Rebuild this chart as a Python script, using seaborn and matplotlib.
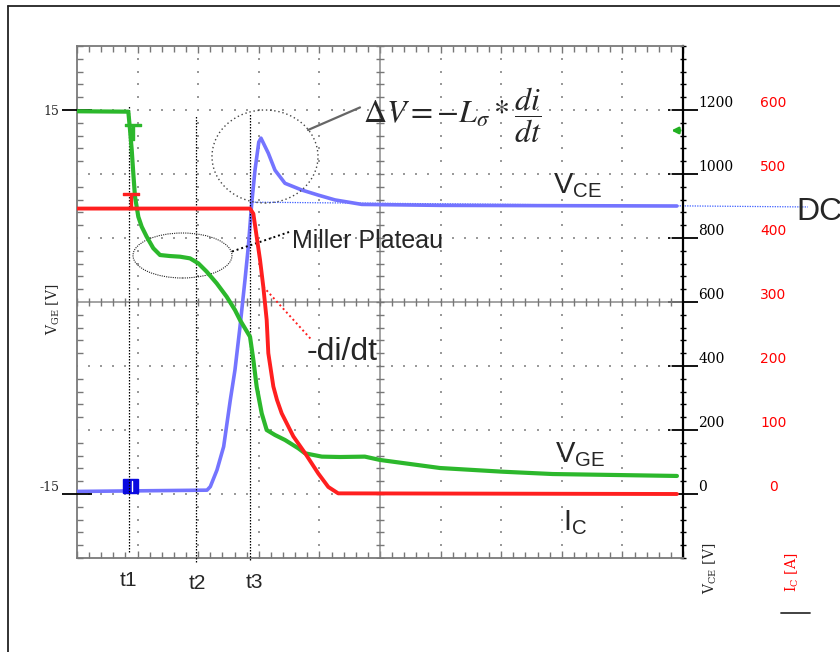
import numpy as np
import pandas as pd
import matplotlib
matplotlib.use("Agg")
import matplotlib.pyplot as plt
import seaborn as sns
from matplotlib.patches import Ellipse, Rectangle
from matplotlib.lines import Line2D
from matplotlib.ticker import FixedLocator, MultipleLocator

# ---------------- data (time in scope divisions) ----------------
vge_t = [0, 0.847, 0.875, 0.903, 0.929, 0.957, 1.012, 1.068, 1.150, 1.259, 1.370, 1.535,
         1.700, 1.865, 2.002, 2.140, 2.305, 2.470, 2.607, 2.69, 2.855, 2.91, 2.965, 3.048,
         3.13, 3.267, 3.432, 3.652, 3.762, 4.04, 4.34, 4.75, 5.00, 5.99, 7.03, 7.85, 9.90]
vge_v = [14.9, 14.87, 13.44, 11.88, 10.05, 8.23, 6.66, 5.88, 5.10, 4.20, 3.67, 3.59,
         3.54, 3.41, 3.02, 2.37, 1.46, 0.41, -0.63, -1.41, -2.71, -4.53, -6.62, -8.70,
         -10.0, -10.39, -10.78, -11.43, -11.82, -12.08, -12.11, -12.08, -12.34, -12.97,
         -13.26, -13.44, -13.59]

vce_t = [0, 2.145, 2.20, 2.31, 2.42, 2.53, 2.607, 2.69, 2.772, 2.827, 2.883, 2.937, 3.0,
         3.036, 3.157, 3.267, 3.432, 3.708, 3.982, 4.257, 4.70, 5.99, 9.90]
vce_v = [8, 12, 23, 75, 148, 294, 388, 523, 669, 773, 908, 1012, 1100,
         1112, 1065, 1012, 971, 950, 934, 919, 905, 902, 900]

ic_t = [0, 2.855, 2.91, 2.965, 3.02, 3.074, 3.13, 3.157, 3.24, 3.30, 3.378, 3.57, 3.762,
        3.982, 4.147, 4.31, 9.90]
ic_a = [446, 446, 438, 402, 366, 324, 272, 220, 168, 147, 126, 90, 64, 32, 11, 1, 0]

t_marks = [0.853, 1.969, 2.85]
t_top = [1215, 1184, 1190]
t_bot = [-180, -212, -206]
t_names = ["t1", "t2", "t3"]

dc_t = [2.85, 12.06]
dc_v = [912, 897]

vce_ticks = [0, 200, 400, 600, 800, 1000, 1200]
ic_ticks = [0, 100, 200, 300, 400, 500, 600]
vge_ticks = [-15, 15]

GREEN = "#2cb82c"
RED = "#ff1f1f"
BLUE = "#7474ff"
GRID = "#9a9a9a"

sns.set_style("white")
plt.rcParams["font.family"] = ["Liberation Sans", "DejaVu Sans"]
plt.rcParams["axes.unicode_minus"] = False

fig = plt.figure(figsize=(8.4, 6.52), dpi=100)
fig.patch.set_facecolor("white")
L, B, W, H = 77 / 840, 1 - 558 / 652, 606 / 840, 512 / 652
ax = fig.add_axes([L, B, W, H])
ax_g = ax.twinx()
ax_i = ax.twinx()

df_g = pd.DataFrame({"t": vge_t, "v": vge_v})
df_c = pd.DataFrame({"t": vce_t, "v": vce_v})
df_i = pd.DataFrame({"t": ic_t, "v": ic_a})

# ---------------- scope grid ----------------
ax.set_xlim(0, 10)
ax.set_ylim(-200, 1400)
ax_g.set_ylim(-20, 20)
ax_i.set_ylim(-100, 700)

xmaj = np.arange(0, 10.01, 1.0)
ymaj = np.arange(-200, 1401, 200)
xmin = np.arange(0, 10.001, 0.2)
ymin = np.arange(-200, 1401, 40)
for x in xmaj[1:-1]:
    if x == 5:
        continue
    ax.plot([x] * len(ymin), ymin, ls="none", marker="s", ms=1.7, mew=0, color=GRID, zorder=1)
for y in ymaj[1:-1]:
    if y == 600:
        continue
    ax.plot(xmin, [y] * len(xmin), ls="none", marker="s", ms=1.7, mew=0, color=GRID, zorder=1)
ax.axhline(600, color="#8a8a8a", lw=1.1, zorder=1)
ax.axvline(5, color="#8a8a8a", lw=1.1, zorder=1)
ax.plot(xmin, [600] * len(xmin), ls="none", marker="|", ms=6, mew=1, color="#777777", zorder=1)
ax.plot([5] * len(ymin), ymin, ls="none", marker="_", ms=6, mew=1, color="#777777", zorder=1)

# DC level line
ax.plot(dc_t, dc_v, color="#3a5cff", lw=0.9, ls=(0, (1, 1)), clip_on=False, zorder=2)

# ---------------- traces ----------------
sns.lineplot(data=df_c, x="t", y="v", ax=ax, color=BLUE, lw=2.6, estimator=None, sort=False, zorder=3)
sns.lineplot(data=df_g, x="t", y="v", ax=ax_g, color=GREEN, lw=3.0, estimator=None, sort=False)
sns.lineplot(data=df_i, x="t", y="v", ax=ax_i, color=RED, lw=2.8, estimator=None, sort=False)

# glitch marker on blue trace at t1
ax.add_patch(Rectangle((0.754, 2), 0.25, 45, color="#0a0ae0", zorder=4))
ax.plot([0.91, 0.91], [8, 40], color="white", lw=1, zorder=5)
# trigger markers
ax_g.plot([0.92], [13.3], marker="$\\top$", ms=11, color=GREEN, ls="none")
ax_i.plot([0.89], [458], marker="$\\top$", ms=11, color=RED, ls="none")
# channel arrow on right
ax_g.annotate("", xy=(9.76, 13.4), xytext=(10.0, 13.4),
              arrowprops=dict(arrowstyle="-|>", color="#22b022", lw=2, mutation_scale=9))

# ---------------- time markers ----------------
for t, top, bot, name in zip(t_marks, t_top, t_bot, t_names):
    ax.plot([t, t], [bot, top], color="black", lw=0.9, ls=(0, (1.2, 1.2)), clip_on=False, zorder=6)
ax.text(t_marks[0], -286, t_names[0], fontsize=15, ha="center", va="baseline")
ax.text(t_marks[1] + 0.02, -296, t_names[1], fontsize=15, ha="center", va="baseline")
ax.text(t_marks[2] + 0.07, -293, t_names[2], fontsize=15, ha="center", va="baseline")

# ---------------- annotations ----------------
ax.add_patch(Ellipse((3.102, 1054.7), 1.749, 290.6, fill=False, ec="#444444", lw=1.0,
                     ls=(0, (1, 2)), zorder=6))
ax.plot([3.812, 4.67], [1137.5, 1208], color="#666666", lw=1.6, zorder=6)
ax.text(4.72, 1184, r"$\Delta V = -L_{\sigma} * \dfrac{di}{dt}$", fontsize=23,
        math_fontfamily="stix", ha="left", va="center")

ax.add_patch(Ellipse((1.741, 745.3), 1.634, 140.6, fill=False, ec="#222222", lw=0.8,
                     ls=(0, (1, 1)), zorder=6))
ax.plot([2.558, 3.515], [757.8, 819.7], color="black", lw=1.4, ls=(0, (1, 1.5)), zorder=6)
ax.text(3.548, 768.75, "Miller Plateau", fontsize=18, ha="left", va="baseline")

ax.plot([3.074, 3.873], [647.8, 481.25], color=RED, lw=1.4, ls=(0, (1, 1.5)), zorder=6)
ax.text(3.795, 418.75, "-di/dt", fontsize=23, ha="left", va="baseline")

ax.text(7.855, 940.6, r"$\mathregular{V_{CE}}$", fontsize=21, ha="left", va="baseline")
ax.text(7.888, 100, r"$\mathregular{V_{GE}}$", fontsize=21, ha="left", va="baseline")
ax.text(8.02, -112.5, r"$\mathregular{I_{C}}$", fontsize=21, ha="left", va="baseline")
ax.text(11.87, 856, "DC", fontsize=23, ha="left", va="baseline")

# ---------------- axes styling ----------------
for a in (ax_g, ax_i):
    for s in a.spines.values():
        s.set_visible(False)
    a.set_xlabel("")
for side in ("left", "top", "bottom"):
    ax.spines[side].set_color("#7a7a7a")
    ax.spines[side].set_linewidth(1.3)
ax.spines["right"].set_color("black")
ax.spines["right"].set_linewidth(1.6)
ax.set_xlabel("")
ax.set_ylabel("")

ax.xaxis.set_major_locator(MultipleLocator(1))
ax.xaxis.set_minor_locator(MultipleLocator(0.2))
ax.tick_params(axis="x", which="both", direction="in", top=True, bottom=True,
               labelbottom=False, color="#777777", width=1)
ax.tick_params(axis="x", which="major", length=5)
ax.tick_params(axis="x", which="minor", length=4)

ax.yaxis.tick_right()
ax.yaxis.set_major_locator(FixedLocator(vce_ticks))
ax.yaxis.set_minor_locator(FixedLocator(ymin))
ax.set_yticklabels([str(v) for v in vce_ticks])
ax.tick_params(axis="y", which="major", direction="inout", length=22, width=1.3, color="black",
               right=True, left=False, labelright=True, labelleft=False, pad=0,
               labelsize=10, labelfontfamily="DejaVu Serif", labelcolor="black")
ax.tick_params(axis="y", which="minor", direction="inout", length=5, width=1, color="black",
               right=True, left=False)
for lbl in ax.get_yticklabels():
    lbl.set_verticalalignment("bottom")

ax_i.yaxis.set_major_locator(FixedLocator(ic_ticks))
ax_i.yaxis.set_minor_locator(MultipleLocator(20))
ax_i.set_yticklabels([str(v) for v in ic_ticks])
ax_i.tick_params(axis="y", which="major", length=0, right=True, left=False, labelright=True,
                 labelleft=False, pad=65, labelsize=10, labelcolor="red",
                 labelfontfamily="DejaVu Sans")
ax_i.tick_params(axis="y", which="minor", direction="in", length=4, width=1, color="#777777",
                 left=True, right=False)
for lbl in ax_i.get_yticklabels():
    lbl.set_horizontalalignment("center")
    lbl.set_verticalalignment("bottom")
ax_i.set_ylabel("")

ax_g.yaxis.tick_left()
ax_g.yaxis.set_major_locator(FixedLocator(vge_ticks))
ax_g.yaxis.set_minor_locator(FixedLocator([]))
ax_g.set_yticklabels([str(v) for v in vge_ticks])
ax_g.tick_params(axis="y", which="major", direction="inout", length=21, width=1.3, color="black",
                 left=True, right=False, labelleft=True, labelright=False, pad=2,
                 labelsize=9, labelfontfamily="DejaVu Serif")
ax_g.get_yticklabels()[0].set_verticalalignment("bottom")
ax_g.yaxis.set_label_position("left")
ax_g.set_ylabel(r"$\mathregular{V_{GE}}$ [V]", fontsize=10, family="DejaVu Serif")
ax_g.yaxis.set_label_coords(-0.025, 0.485)

ax.text(1.045, -0.02, r"$\mathregular{V_{CE}}$ [V]", transform=ax.transAxes, rotation=90,
        ha="center", va="center", fontsize=10, family="DejaVu Serif")
ax.text(1.18, -0.027, r"$\mathregular{I_{C}}$ [A]", transform=ax.transAxes, rotation=90,
        ha="center", va="center", fontsize=10, family="DejaVu Serif", color="red")
ax.plot([1.162, 1.21], [-0.107, -0.107], transform=ax.transAxes, clip_on=False,
        color="#333333", lw=1.3)

# outer frame
fig.add_artist(Line2D([8 / 840, 8 / 840], [0, 1 - 6 / 652], color="#222222", lw=1.3))
fig.add_artist(Line2D([8 / 840, 1], [1 - 6 / 652, 1 - 6 / 652], color="#222222", lw=1.3))

fig.savefig("out.png", dpi=100)
